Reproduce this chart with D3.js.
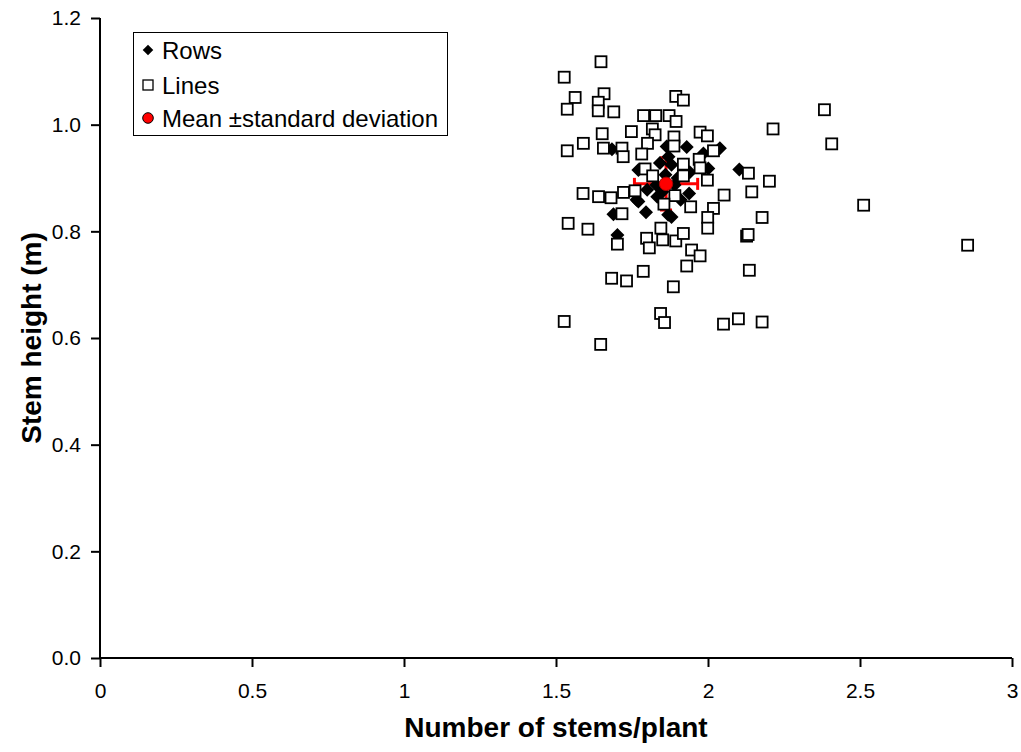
<!DOCTYPE html>
<html>
<head>
<meta charset="utf-8">
<script src="https://cdn.jsdelivr.net/npm/d3@7"></script>
<style>
  body { margin: 0; background: #fff; }
  text { font-family: Arial, "Liberation Sans", sans-serif; }
</style>
</head>
<body>
<script>
const width = 1021;
const height = 752;

// Lines (open squares)
const linesX = [1.648, 1.527, 1.563, 1.537, 1.658, 1.639, 1.639, 1.690, 1.894, 1.919,
    1.788, 1.828, 1.872, 1.895, 1.748, 1.817, 1.826, 1.652, 1.974, 1.998,
    1.590, 1.537, 1.656, 1.717, 1.721, 1.801, 1.782, 1.888, 1.888, 1.971,
    2.018, 1.919, 1.793, 1.818, 1.919, 1.998, 1.974, 1.589, 1.640, 1.681,
    1.722, 1.760, 1.891, 1.855, 1.943, 2.018, 1.717, 1.540, 1.605, 1.702,
    1.845, 1.798, 1.807, 1.851, 1.894, 1.919, 1.946, 1.974, 1.930, 1.999,
    1.999, 1.787, 1.683, 1.732, 1.886, 1.844, 1.857, 1.527, 1.647, 2.383,
    2.214, 2.407, 2.133, 2.202, 2.144, 2.053, 2.178, 2.127, 2.132, 2.512,
    2.136, 2.854, 2.051, 2.100, 2.178];
const linesY = [1.118, 1.089, 1.051, 1.029, 1.058, 1.042, 1.026, 1.024, 1.053, 1.046,
    1.017, 1.017, 1.017, 1.006, 0.987, 0.992, 0.981, 0.983, 0.986, 0.979,
    0.965, 0.951, 0.956, 0.956, 0.940, 0.965, 0.945, 0.977, 0.960, 0.935,
    0.951, 0.926, 0.917, 0.904, 0.904, 0.896, 0.919, 0.871, 0.865, 0.863,
    0.873, 0.876, 0.867, 0.851, 0.846, 0.843, 0.833, 0.815, 0.804, 0.776,
    0.806, 0.787, 0.769, 0.784, 0.782, 0.796, 0.765, 0.754, 0.735, 0.826,
    0.806, 0.725, 0.712, 0.707, 0.696, 0.646, 0.629, 0.631, 0.588, 1.028,
    0.992, 0.964, 0.909, 0.894, 0.874, 0.868, 0.826, 0.791, 0.794, 0.849,
    0.727, 0.774, 0.626, 0.636, 0.630];

// Rows (filled diamonds)
const rowsX = [1.684, 1.689, 1.702, 1.796, 1.771, 1.869, 1.938, 2.103, 2.039, 2.001,
    1.864, 1.930, 1.985, 1.842, 1.880, 1.833, 1.771, 1.765, 1.860, 1.890,
    1.830, 1.880, 1.910, 1.800, 1.940, 1.850, 1.870, 1.900];
const rowsY = [0.954, 0.832, 0.793, 0.836, 0.856, 0.831, 0.871, 0.916, 0.956, 0.918,
    0.959, 0.958, 0.946, 0.928, 0.827, 0.865, 0.915, 0.859, 0.906, 0.887,
    0.887, 0.925, 0.859, 0.878, 0.911, 0.874, 0.940, 0.900];

// Mean ± standard deviation
const meanX = [1.862];
const meanY = [0.889];
const sdX = [0.104];
const sdY = [0.049];

const xTicks = [0, 0.5, 1, 1.5, 2, 2.5, 3];
const yTicks = [0, 0.2, 0.4, 0.6, 0.8, 1.0, 1.2];
const legendLabels = ["Rows", "Lines", "Mean \u00B1standard deviation"];

const margin = {top: 18, right: 9, bottom: 94, left: 100};

const x = d3.scaleLinear().domain([0, 3]).range([margin.left, width - margin.right]);
const y = d3.scaleLinear().domain([0, 1.2]).range([height - margin.bottom, margin.top]);

const svg = d3.select('body').append('svg')
    .attr('width', width)
    .attr('height', height);

// axes
const xAxis = svg.append('g')
    .attr('transform', `translate(0,${y(0)})`)
    .call(d3.axisBottom(x).tickValues(xTicks).tickFormat(d3.format('')).tickSize(9).tickPadding(16));
const yAxis = svg.append('g')
    .attr('transform', `translate(${x(0)},0)`)
    .call(d3.axisLeft(y).tickValues(yTicks).tickFormat(d3.format('.1f')).tickSize(9).tickPadding(10));

[xAxis, yAxis].forEach(g => {
    g.select('.domain').attr('stroke', '#000').attr('stroke-width', 2);
    g.selectAll('.tick line').attr('stroke', '#000').attr('stroke-width', 2);
    g.selectAll('.tick text').attr('fill', '#000').style('font-size', '21px')
        .style('font-family', 'Arial, "Liberation Sans", sans-serif');
});
xAxis.select('.domain').attr('d', `M${x(0)},0H${x(3)}`);
yAxis.select('.domain').attr('d', `M0,${y(0)}V${y(1.2)}`);

// axis titles
svg.append('text')
    .attr('x', (x(0) + x(3)) / 2)
    .attr('y', 737)
    .attr('text-anchor', 'middle')
    .style('font-size', '28px')
    .style('font-weight', 'bold')
    .text('Number of stems/plant');

svg.append('text')
    .attr('transform', `translate(41,${(y(0) + y(1.2)) / 2}) rotate(-90)`)
    .attr('text-anchor', 'middle')
    .style('font-size', '28px')
    .style('font-weight', 'bold')
    .text('Stem height (m)');

// error bars sit beneath the scatter markers
const err = svg.append('g').attr('stroke', '#f00').attr('stroke-width', 3);
meanX.forEach((mx, i) => {
    const cx = x(mx), cy = y(meanY[i]);
    const x0 = x(mx - sdX[i]), x1 = x(mx + sdX[i]);
    const y0 = y(meanY[i] - sdY[i]), y1 = y(meanY[i] + sdY[i]);
    const cap = 6;
    err.append('line').attr('x1', x0).attr('x2', x1).attr('y1', cy).attr('y2', cy);
    err.append('line').attr('x1', cx).attr('x2', cx).attr('y1', y0).attr('y2', y1);
    err.append('line').attr('x1', x0).attr('x2', x0).attr('y1', cy - cap).attr('y2', cy + cap);
    err.append('line').attr('x1', x1).attr('x2', x1).attr('y1', cy - cap).attr('y2', cy + cap);
    err.append('line').attr('x1', cx - cap).attr('x2', cx + cap).attr('y1', y0).attr('y2', y0);
    err.append('line').attr('x1', cx - cap).attr('x2', cx + cap).attr('y1', y1).attr('y2', y1);
});

const diamond = d3.symbol().type(d3.symbolSquare).size(98);

// Rows
svg.append('g').selectAll('path')
    .data(d3.range(rowsX.length))
    .join('path')
    .attr('d', diamond)
    .attr('transform', i => `translate(${x(rowsX[i])},${y(rowsY[i])}) rotate(45)`)
    .attr('fill', '#000');

// Lines
const sq = 11;
svg.append('g').selectAll('rect')
    .data(d3.range(linesX.length))
    .join('rect')
    .attr('x', i => x(linesX[i]) - sq / 2)
    .attr('y', i => y(linesY[i]) - sq / 2)
    .attr('width', sq)
    .attr('height', sq)
    .attr('fill', '#fff')
    .attr('stroke', '#000')
    .attr('stroke-width', 1.8);

// mean marker
svg.append('g').selectAll('circle')
    .data(d3.range(meanX.length))
    .join('circle')
    .attr('cx', i => x(meanX[i]))
    .attr('cy', i => y(meanY[i]))
    .attr('r', 6.7)
    .attr('fill', '#f00').attr('stroke', '#a00').attr('stroke-width', 1);

// legend
const legend = svg.append('g');
legend.append('rect')
    .attr('x', 133.5).attr('y', 32.5)
    .attr('width', 314).attr('height', 103)
    .attr('fill', '#fff').attr('stroke', '#000').attr('stroke-width', 1);

const rowY = [50, 85, 118];
legend.append('path')
    .attr('d', d3.symbol().type(d3.symbolSquare).size(56))
    .attr('transform', `translate(148,${rowY[0]}) rotate(45)`)
    .attr('fill', '#000');
legend.append('rect')
    .attr('x', 143).attr('y', rowY[1] - 5)
    .attr('width', 10).attr('height', 10)
    .attr('fill', '#fff').attr('stroke', '#000').attr('stroke-width', 1.3);
legend.append('circle')
    .attr('cx', 148).attr('cy', rowY[2]).attr('r', 5.3)
    .attr('fill', '#f00').attr('stroke', '#000').attr('stroke-width', 1);

legend.selectAll('text')
    .data(legendLabels)
    .join('text')
    .attr('x', 162)
    .attr('y', (d, i) => rowY[i])
    .attr('dy', '0.36em')
    .style('font-size', '24px')
    .text(d => d);
</script>
</body>
</html>
